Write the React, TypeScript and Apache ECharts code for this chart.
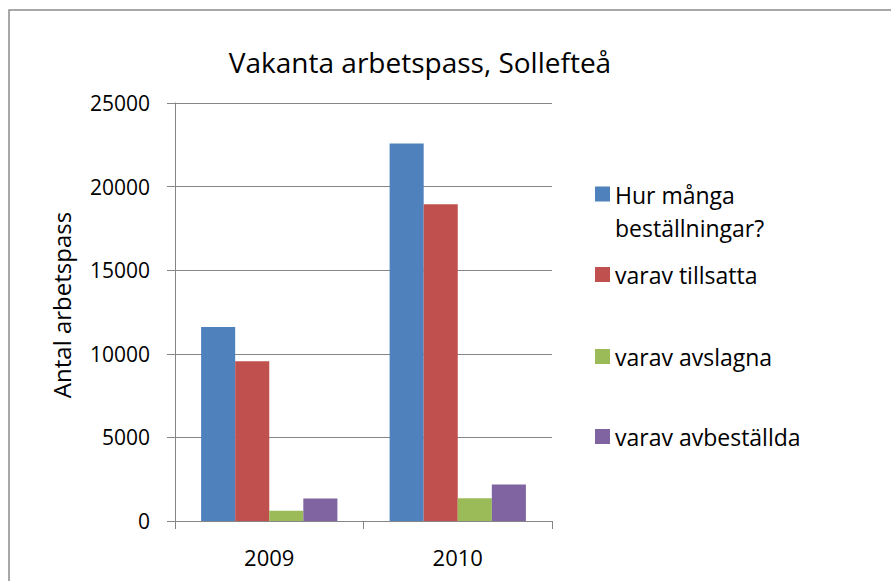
import React, { useEffect, useRef } from "react";
import * as echarts from "echarts";

const categories = ["2009", "2010"];
const seriesNames = [
  "Hur många\nbeställningar?",
  "varav tillsatta",
  "varav avslagna",
  "varav avbeställda",
];
const bestallningar = [11600, 22580];
const tillsatta = [9550, 18950];
const avslagna = [620, 1360];
const avbestallda = [1350, 2180];
const colors = ["#4F81BD", "#C0504D", "#9BBB59", "#8064A2"];
const yTicks = { min: 0, max: 25000, interval: 5000 };

const FONT = "Open Sans";

export default function App() {
  const ref = useRef<HTMLDivElement>(null);
  useEffect(() => {
    document.body.style.margin = "0";
    const chart = echarts.init(ref.current!, null, { renderer: "svg" });
    const values = [bestallningar, tillsatta, avslagna, avbestallda];
    const legendTops = [178, 258, 340, 420];
    const legendBase = {
      orient: "vertical" as const,
      left: 595,
      padding: 0,
      itemWidth: 15,
      itemHeight: 15,
      itemGap: 0,
      textStyle: {
        fontFamily: FONT,
        fontSize: 23,
        lineHeight: 33,
        color: "#000",
      },
    };
    chart.setOption({
      animation: false,
      color: colors,
      title: {
        text: "Vakanta arbetspass, Sollefteå",
        left: 415,
        textAlign: "center",
        top: 43,
        textStyle: {
          fontFamily: FONT,
          fontSize: 28,
          fontWeight: "normal",
          color: "#000",
        },
      },
      graphic: [
        {
          type: "rect",
          shape: { x: 9, y: 10, width: 1000, height: 1000 },
          style: { fill: "none", stroke: "#8c8c8c", lineWidth: 1.5 },
          silent: true,
        },
      ],
      legend: seriesNames.map((n, i) => ({
        ...legendBase,
        top: legendTops[i],
        data: [
          i === 0
            ? { name: n, icon: "path://M0,0H15V15H0Z M0,48.9H0.05V49H0Z" }
            : { name: n, icon: "rect" },
        ],
        itemHeight: i === 0 ? 49 : 15,
      })),
      grid: { left: 175, right: 339, top: 103, bottom: 60 },
      xAxis: {
        type: "category",
        data: categories,
        axisLine: { lineStyle: { color: "#868686", width: 1 } },
        axisTick: { show: true, length: 8, lineStyle: { color: "#868686" } },
        axisLabel: {
          fontFamily: FONT,
          fontSize: 22,
          lineHeight: 22,
          color: "#000",
          margin: 25,
        },
      },
      yAxis: {
        type: "value",
        min: yTicks.min,
        max: yTicks.max,
        interval: yTicks.interval,
        name: "Antal arbetspass",
        nameLocation: "middle",
        nameGap: 102,
        nameTextStyle: { fontFamily: FONT, fontSize: 24, color: "#000", padding: [0, 0, 0, 14] },
        axisLine: { show: true, lineStyle: { color: "#868686", width: 1 } },
        axisTick: { show: true, length: 8, lineStyle: { color: "#868686" } },
        splitLine: { lineStyle: { color: "#868686", width: 1 } },
        axisLabel: {
          fontFamily: FONT,
          fontSize: 21,
          color: "#000",
          margin: 25,
          formatter: (v: number) => String(v),
        },
      },
      series: seriesNames.map((n, i) => ({
        name: n,
        type: "bar",
        data: values[i],
        barGap: "0%",
        barCategoryGap: "27.7%",
        itemStyle: { color: colors[i] },
      })),
    });
    return () => chart.dispose();
  }, []);
  return <div ref={ref} style={{ width: 891, height: 581 }} />;
}
